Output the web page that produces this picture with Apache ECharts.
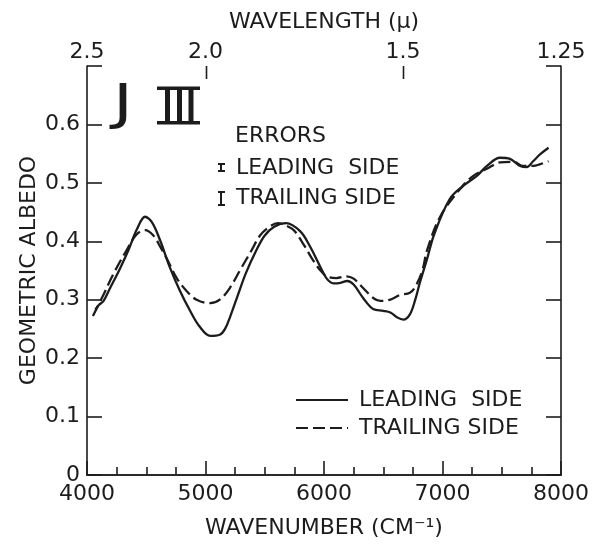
<!DOCTYPE html>
<html><head><meta charset="utf-8">
<script src="https://cdn.jsdelivr.net/npm/echarts@6/dist/echarts.min.js"></script>
<style>html,body{margin:0;padding:0;background:#fff}#c{width:599px;height:544px}</style>
</head><body><div id="c"></div>
<script>
// Leading side (solid)
const leadingWn = [4070,4100,4140,4190,4280,4350,4420,4490,4550,4620,4700,4785,4870,4950,5040,5120,5165,5210,5265,5340,5430,5500,5580,5680,5800,5880,5960,6020,6080,6140,6195,6250,6330,6415,6500,6560,6615,6670,6725,6770,6810,6870,6930,7060,7175,7290,7375,7485,7570,7655,7710,7765,7825,7895];
const leadingAlbedo = [0.283,0.291,0.298,0.318,0.354,0.385,0.420,0.442,0.432,0.400,0.355,0.315,0.281,0.254,0.238,0.240,0.250,0.272,0.303,0.345,0.385,0.410,0.425,0.431,0.417,0.392,0.360,0.337,0.328,0.329,0.332,0.326,0.303,0.284,0.281,0.278,0.270,0.266,0.275,0.300,0.330,0.370,0.412,0.472,0.495,0.512,0.529,0.543,0.541,0.529,0.527,0.537,0.549,0.560];
// Trailing side (dashed)
const trailingWn = [4050,4140,4220,4335,4420,4490,4560,4620,4672,4757,4840,4925,5040,5120,5205,5290,5390,5460,5540,5610,5700,5750,5830,5900,5970,6025,6105,6190,6250,6330,6415,6475,6560,6640,6725,6770,6830,6870,6980,7150,7260,7375,7485,7600,7680,7765,7825,7895];
const trailingAlbedo = [0.272,0.309,0.343,0.385,0.412,0.419,0.410,0.390,0.371,0.337,0.315,0.300,0.294,0.300,0.320,0.350,0.385,0.410,0.425,0.431,0.425,0.418,0.394,0.370,0.350,0.340,0.337,0.340,0.336,0.320,0.303,0.298,0.300,0.308,0.312,0.322,0.350,0.385,0.442,0.490,0.512,0.524,0.535,0.536,0.529,0.529,0.532,0.537];
// Axes
const wavenumberRange = [4000, 8000];
const albedoRange = [0, 0.7];
const wavelengthValues = [2.5, 2.0, 1.5, 1.25];
const wavelengthLabels = ['2.5', '2.0', '1.5', '1.25'];
const seriesNames = ['LEADING  SIDE', 'TRAILING SIDE'];

const F = 'DejaVu Sans';
const INK = '#1c1c1c';
const wlPos = wavelengthValues.map(w => 1e4 / w);
const zip = (a, b) => a.map((v, i) => [v, b[i]]);

const chart = echarts.init(document.getElementById('c'));
const axisLine = {show: true, lineStyle: {color: INK, width: 1.6}};
const option = {
  animation: false,
  backgroundColor: '#fff',
  grid: {left: 87, right: 38, top: 66, bottom: 65},
  xAxis: [{
    type: 'value', position: 'bottom', min: wavenumberRange[0], max: wavenumberRange[1], interval: 1000,
    name: 'WAVENUMBER (CM⁻¹)', nameLocation: 'middle', nameGap: 42,
    nameTextStyle: {fontFamily: F, fontSize: 22, color: INK},
    axisLine: axisLine,
    axisTick: {inside: true, length: 14, lineStyle: {color: INK, width: 1.6}},
    minorTick: {show: true, splitNumber: 4, length: 8, lineStyle: {color: INK, width: 1.6}},
    axisLabel: {fontFamily: F, fontSize: 22, color: INK, margin: 8, formatter: v => String(v)},
    splitLine: {show: false}
  }, {
    type: 'value', position: 'top', min: wavenumberRange[0], max: wavenumberRange[1],
    name: 'WAVELENGTH (μ)', nameLocation: 'middle', nameGap: 33,
    nameTextStyle: {fontFamily: F, fontSize: 22, color: INK},
    axisLine: axisLine,
    axisTick: {show: false},
    axisLabel: {fontFamily: F, fontSize: 22, color: INK, margin: 3, customValues: wlPos,
      showMinLabel: true, showMaxLabel: true,
      formatter: v => { const i = wlPos.findIndex(p => Math.abs(p - v) < 1); return i >= 0 ? wavelengthLabels[i] : ''; }},
    splitLine: {show: false}
  }],
  yAxis: [{
    type: 'value', position: 'left', min: albedoRange[0], max: albedoRange[1], interval: 0.1,
    name: 'GEOMETRIC ALBEDO', nameLocation: 'middle', nameGap: 47, nameMoveOverlap: false,
    nameTextStyle: {fontFamily: F, fontSize: 22, color: INK},
    axisLine: axisLine,
    axisTick: {inside: true, length: 15, lineStyle: {color: INK, width: 1.6}},
    axisLabel: {fontFamily: F, fontSize: 22, color: INK, margin: 7,
      formatter: v => v === 0 ? '0' : (v > 0.65 ? '' : v.toFixed(1))},
    splitLine: {show: false}
  }, {
    type: 'value', position: 'right', min: albedoRange[0], max: albedoRange[1], interval: 0.1,
    axisLine: axisLine,
    axisTick: {inside: true, length: 15, lineStyle: {color: INK, width: 1.6}},
    axisLabel: {show: false},
    splitLine: {show: false}
  }],
  legend: {
    orient: 'vertical', left: 290, top: 384, itemWidth: 52, itemHeight: 14, itemGap: 6,
    data: seriesNames,
    itemStyle: {opacity: 0},
    textStyle: {fontFamily: F, fontSize: 22, color: INK, lineHeight: 22, padding: [0, 0, 0, 6]}
  },
  series: [{
    name: seriesNames[0], type: 'line', data: zip(leadingWn, leadingAlbedo), smooth: 0.35,
    symbol: 'none', lineStyle: {color: INK, width: 2.3}, itemStyle: {color: INK}
  }, {
    name: seriesNames[1], type: 'line', data: zip(trailingWn, trailingAlbedo), smooth: 0.35,
    symbol: 'none', lineStyle: {color: INK, width: 2.3, type: [12, 5]}, itemStyle: {color: INK}
  }],
  graphic: [
    {type: 'text', x: 113, y: 106, scaleX: 1.35, style: {text: 'J', font: '50px "DejaVu Sans"', fill: INK, verticalAlign: 'middle'}},
    {type: 'rect', shape: {x: 157, y: 86.5, width: 43, height: 3.5}, style: {fill: INK}},
    {type: 'rect', shape: {x: 157, y: 121, width: 43, height: 3.5}, style: {fill: INK}},
    {type: 'rect', shape: {x: 165, y: 88, width: 5, height: 35}, style: {fill: INK}},
    {type: 'rect', shape: {x: 177, y: 88, width: 5, height: 35}, style: {fill: INK}},
    {type: 'rect', shape: {x: 188.5, y: 88, width: 5, height: 35}, style: {fill: INK}},
    {type: 'text', x: 235, y: 136, style: {text: 'ERRORS', font: '22px "DejaVu Sans"', fill: INK, verticalAlign: 'middle'}},
    {type: 'text', x: 236, y: 168, style: {text: 'LEADING  SIDE', font: '22px "DejaVu Sans"', fill: INK, verticalAlign: 'middle'}},
    {type: 'text', x: 236, y: 198, style: {text: 'TRAILING SIDE', font: '22px "DejaVu Sans"', fill: INK, verticalAlign: 'middle'}},
    {type: 'line', shape: {x1: 221, y1: 164, x2: 221, y2: 171}, style: {stroke: INK, lineWidth: 2}},
    {type: 'line', shape: {x1: 218, y1: 164, x2: 225, y2: 164}, style: {stroke: INK, lineWidth: 2}},
    {type: 'line', shape: {x1: 218, y1: 171, x2: 225, y2: 171}, style: {stroke: INK, lineWidth: 2}},
    {type: 'line', shape: {x1: 221, y1: 192, x2: 221, y2: 205}, style: {stroke: INK, lineWidth: 2}},
    {type: 'line', shape: {x1: 218, y1: 192, x2: 225, y2: 192}, style: {stroke: INK, lineWidth: 2}},
    {type: 'line', shape: {x1: 218, y1: 205, x2: 225, y2: 205}, style: {stroke: INK, lineWidth: 2}}
  ]
};
chart.setOption(option);
// Inward ticks on the top (wavelength) axis at 2.0 and 1.5 µ, placed through the axis scale
const topY = chart.convertToPixel({yAxisIndex: 0}, albedoRange[1]);
const topTicks = wlPos.slice(1, 3).map(v => {
  const x = Math.round(chart.convertToPixel({xAxisIndex: 1}, v)) + 0.5;
  return {type: 'line', shape: {x1: x, y1: topY, x2: x, y2: topY + 13}, style: {stroke: INK, lineWidth: 1.6}};
});
chart.setOption({graphic: option.graphic.concat(topTicks)});
</script>
</body></html>
